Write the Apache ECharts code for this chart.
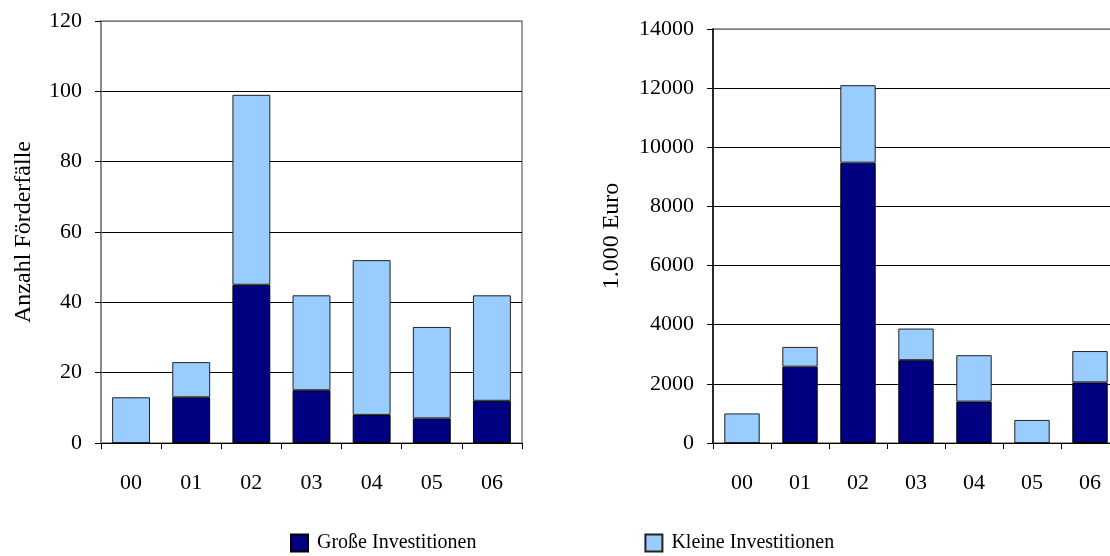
<!DOCTYPE html>
<html>
<head>
<meta charset="utf-8">
<script src="https://cdn.jsdelivr.net/npm/echarts@6/dist/echarts.min.js"></script>
<style>
html,body{margin:0;padding:0;background:#fff;}
#chart{width:1110px;height:556px;}
</style>
</head>
<body>
<div id="chart"></div>
<script>
const categories = ['00','01','02','03','04','05','06'];
// Anzahl Förderfälle
const countGross = [0, 13, 45, 15, 8, 7, 12];
const countKlein = [13, 10, 54, 27, 44, 26, 30];
// 1.000 Euro
const euroGross = [0, 2580, 9480, 2800, 1400, 0, 2050];
const euroKlein = [1000, 670, 2620, 1070, 1570, 780, 1060];

const seriesNames = ['Große Investitionen', 'Kleine Investitionen'];
const leftTitle = 'Anzahl Förderfälle';
const rightTitle = '1.000 Euro';

const FONT = "'Liberation Serif', 'Times New Roman', serif";
const DARK = '#000080';
const LIGHT = '#99CCFF';

const chart = echarts.init(document.getElementById('chart'), null, {renderer: 'canvas'});

function xAxisCfg(gridIndex) {
  return {
    type: 'category', gridIndex, data: categories,
    axisLine: {show: true, lineStyle: {color: '#000', width: 1}},
    axisTick: {show: true, interval: 0, length: 6, lineStyle: {color: '#000'}},
    axisLabel: {color: '#000', fontFamily: FONT, fontSize: 22, margin: 29, interval: 0},
    splitLine: {show: false}
  };
}
function yAxisCfg(gridIndex, max, interval, name, gap, nCount, axisColor) {
  const cols = [];
  for (let i = 0; i < nCount; i++) cols.push(i === nCount - 1 ? '#808080' : '#000');
  return {
    type: 'value', gridIndex, min: 0, max, interval,
    name, nameLocation: 'middle', nameGap: gap, nameRotate: 90,
    nameTextStyle: {color: '#000', fontFamily: FONT, fontSize: 24},
    axisLine: {show: true, lineStyle: {color: axisColor, width: 1.5}},
    axisTick: {show: true, length: 6, lineStyle: {color: '#000'}},
    axisLabel: {color: '#000', fontFamily: FONT, fontSize: 22, margin: 19,
      formatter: v => String(v)},
    splitLine: {show: true, lineStyle: {color: cols, width: 1}}
  };
}

const option = {
  animation: false,
  backgroundColor: '#fff',
  textStyle: {fontFamily: FONT},
  grid: [
    {left: 101, top: 21, width: 421, height: 422, show: true, borderColor: '#808080', borderWidth: 1.5,
     backgroundColor: 'transparent', outerBoundsMode: 'none', containLabel: false},
    {left: 713, top: 29, width: 406, height: 414, show: true, borderColor: '#808080', borderWidth: 1.5,
     backgroundColor: 'transparent', outerBoundsMode: 'none', containLabel: false}
  ],
  xAxis: [xAxisCfg(0), xAxisCfg(1)],
  yAxis: [
    yAxisCfg(0, 120, 20, leftTitle, 65, 7, '#808080'),
    yAxisCfg(1, 14000, 2000, rightTitle, 89, 8, '#000')
  ],
  legend: {
    data: seriesNames,
    left: 285, top: 528,
    itemWidth: 17, itemHeight: 17, itemGap: 168,
    icon: 'rect',
    textStyle: {color: '#000', fontFamily: FONT, fontSize: 20, padding: [0,0,0,4]}
  },
  series: [
    {name: seriesNames[0], type: 'bar', stack: 'a', xAxisIndex: 0, yAxisIndex: 0, data: countGross,
     barCategoryGap: '37%', itemStyle: {color: DARK, borderColor: '#000', borderWidth: 1}},
    {name: seriesNames[1], type: 'bar', stack: 'a', xAxisIndex: 0, yAxisIndex: 0, data: countKlein,
     barCategoryGap: '37%', itemStyle: {color: LIGHT, borderColor: '#222', borderWidth: 1}},
    {name: seriesNames[0], type: 'bar', stack: 'b', xAxisIndex: 1, yAxisIndex: 1, data: euroGross,
     barCategoryGap: '39%', itemStyle: {color: DARK, borderColor: '#000', borderWidth: 1}},
    {name: seriesNames[1], type: 'bar', stack: 'b', xAxisIndex: 1, yAxisIndex: 1, data: euroKlein,
     barCategoryGap: '39%', itemStyle: {color: LIGHT, borderColor: '#222', borderWidth: 1}}
  ]
};
chart.setOption(option);
</script>
</body>
</html>
